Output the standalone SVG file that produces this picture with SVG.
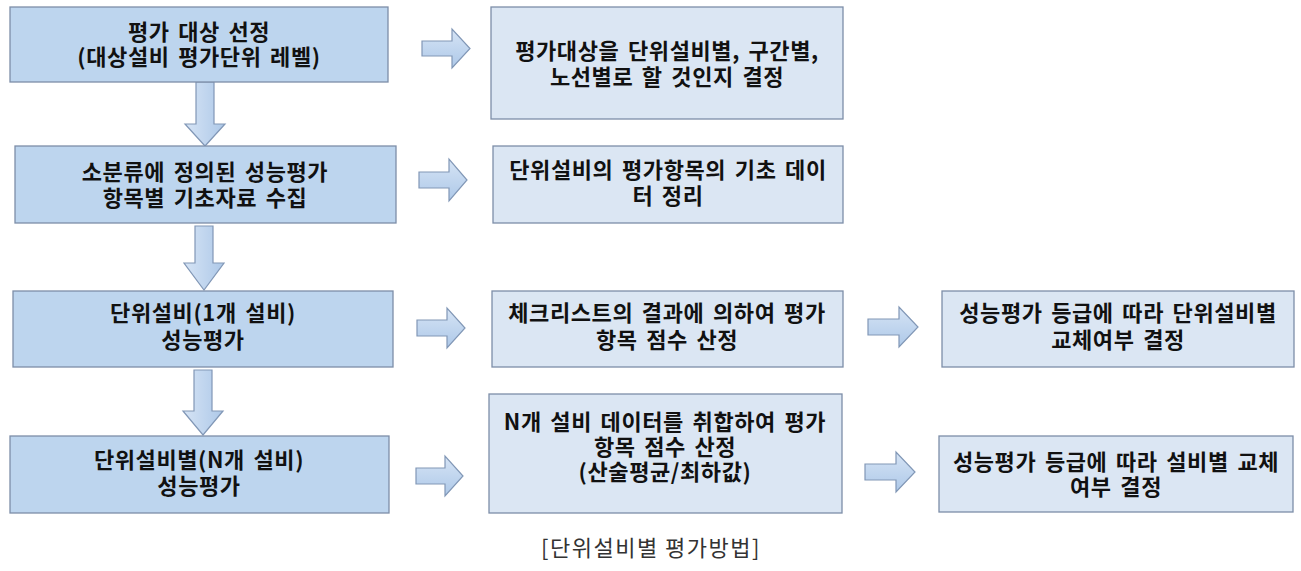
<svg xmlns="http://www.w3.org/2000/svg" width="1301" height="571" viewBox="0 0 1301 571">
<defs>
<linearGradient id="ag" x1="0" y1="0" x2="0" y2="1">
<stop offset="0" stop-color="#d6e4f5"/>
<stop offset="1" stop-color="#adc8e8"/>
</linearGradient>
<linearGradient id="agv" x1="0" y1="0" x2="1" y2="0">
<stop offset="0" stop-color="#d6e4f5"/>
<stop offset="1" stop-color="#adc8e8"/>
</linearGradient>
</defs>
<style>
.lb{fill:#bdd5ee;stroke:#7d8ea8;stroke-width:1.3}
.rb{fill:#dbe6f3;stroke:#7d8ea8;stroke-width:1.3}
.ar{fill:url(#ag);stroke:#8197b6;stroke-width:1.2}
.av{fill:url(#agv);stroke:#8197b6;stroke-width:1.2}
text{font-family:"Noto Sans CJK KR","Liberation Sans",sans-serif;font-weight:bold;font-size:22px;fill:#111;text-anchor:middle;letter-spacing:0.6px;word-spacing:3px}
.cap{font-weight:normal;font-size:22px;fill:#333;letter-spacing:1.5px;word-spacing:0}
</style>
<rect width="1301" height="571" fill="#ffffff"/>
<g id="connectors">
<path class="av" d="M196,82 H214 V124 H225 L205,146 L185,124 H196 Z"/>
<path class="av" d="M195,226 H213 V263 H224 L204,290 L184,263 H195 Z"/>
<path class="av" d="M194,370 H212 V411 H223 L203,435 L183,411 H194 Z"/>
<path class="ar" d="M422,41 H452 V29 L470,48.5 L452,68 V56 H422 Z"/>
<path class="ar" d="M419,172 H449 V159 L467,180 L449,201 V188 H419 Z"/>
<path class="ar" d="M417,320 H447 V308 L465,328 L447,348 V336 H417 Z"/>
<path class="ar" d="M868,319 H899 V307 L918,327 L899,347 V335 H868 Z"/>
<path class="ar" d="M416,468 H445 V456 L463,476 L445,496 V484 H416 Z"/>
<path class="ar" d="M865,464 H896 V452 L915,472 L896,492 V480 H865 Z"/>
</g>
<g id="n1">
<rect class="lb" x="10" y="7" width="378" height="75"/>
<text x="199" y="40">평가 대상 선정</text>
<text x="199" y="65">(대상설비 평가단위 레벨)</text>
</g>
<g id="n2">
<rect class="rb" x="491" y="7" width="352" height="112"/>
<text x="667" y="59">평가대상을 단위설비별, 구간별,</text>
<text x="667" y="85">노선별로 할 것인지 결정</text>
</g>
<g id="n3">
<rect class="lb" x="15" y="146" width="381" height="77"/>
<text x="205" y="180">소분류에 정의된 성능평가</text>
<text x="205" y="206">항목별 기초자료 수집</text>
</g>
<g id="n4">
<rect class="rb" x="493" y="146" width="350" height="77"/>
<text x="668" y="178">단위설비의 평가항목의 기초 데이</text>
<text x="668" y="204">터 정리</text>
</g>
<g id="n5">
<rect class="lb" x="13" y="291" width="380" height="76"/>
<text x="203" y="321">단위설비(1개 설비)</text>
<text x="203" y="348">성능평가</text>
</g>
<g id="n6">
<rect class="rb" x="492" y="291" width="351" height="76"/>
<text x="667" y="321">체크리스트의 결과에 의하여 평가</text>
<text x="667" y="348">항목 점수 산정</text>
</g>
<g id="n7">
<rect class="rb" x="942" y="291" width="352" height="76"/>
<text x="1118" y="321">성능평가 등급에 따라 단위설비별</text>
<text x="1118" y="348">교체여부 결정</text>
</g>
<g id="n8">
<rect class="lb" x="10" y="436" width="379" height="77"/>
<text x="199" y="468">단위설비별(N개 설비)</text>
<text x="199" y="494">성능평가</text>
</g>
<g id="n9">
<rect class="rb" x="489" y="394" width="353" height="119"/>
<text x="665" y="430">N개 설비 데이터를 취합하여 평가</text>
<text x="665" y="455">항목 점수 산정</text>
<text x="665" y="480">(산술평균/최하값)</text>
</g>
<g id="n10">
<rect class="rb" x="939" y="436" width="354" height="76"/>
<text x="1116" y="470">성능평가 등급에 따라 설비별 교체</text>
<text x="1116" y="495">여부 결정</text>
</g>
<text class="cap" x="651" y="556">[단위설비별 평가방법]</text>
</svg>
